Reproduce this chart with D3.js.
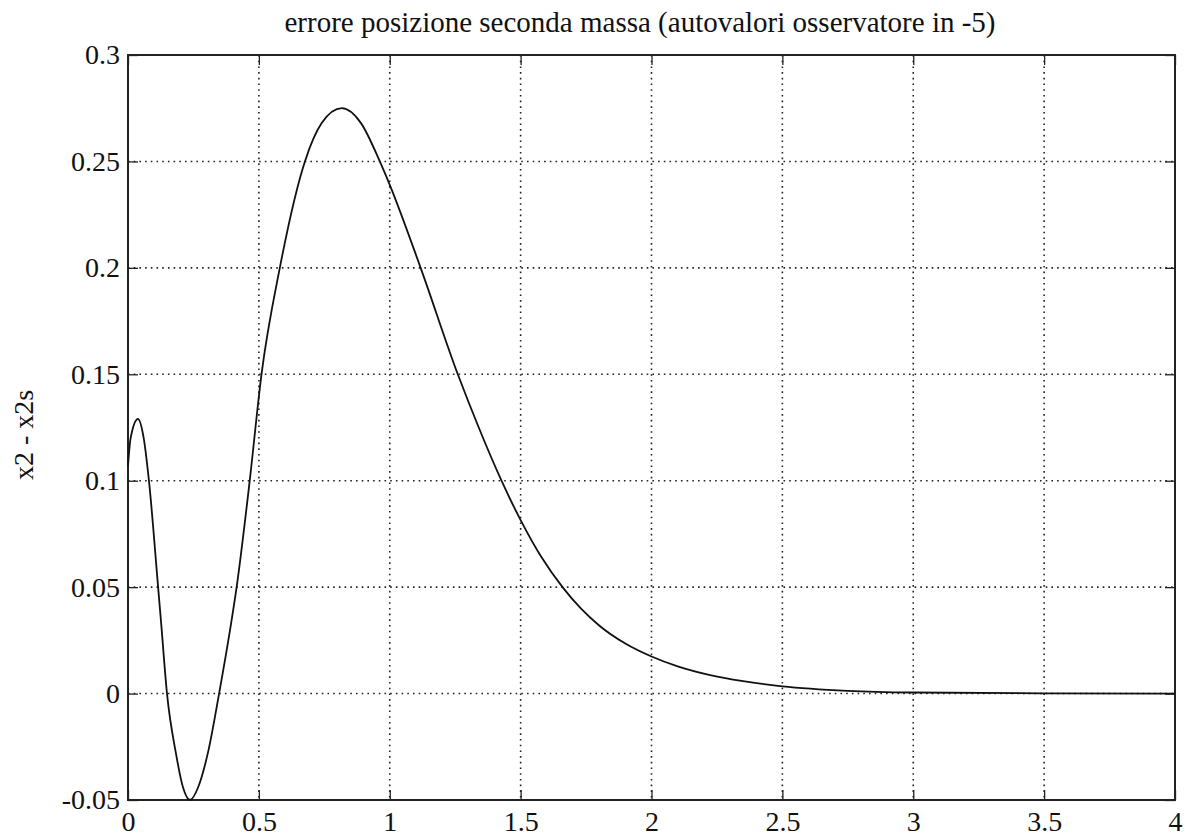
<!DOCTYPE html>
<html>
<head>
<meta charset="utf-8">
<script src="https://cdn.jsdelivr.net/npm/d3@7"></script>
<style>
  body { margin: 0; background: #fff; }
  text { font-family: "Liberation Serif", "Times New Roman", serif; fill: #111; }
</style>
</head>
<body>
<div id="chart"></div>
<script>
// values
const titleText = "errore posizione seconda massa (autovalori osservatore in -5)";
const yLabel = "x2 - x2s";
const xTicks = [0, 0.5, 1, 1.5, 2, 2.5, 3, 3.5, 4];
const yTicks = [-0.05, 0, 0.05, 0.1, 0.15, 0.2, 0.25, 0.3];
const time = [0, 0.01, 0.038, 0.06, 0.08, 0.115, 0.126, 0.149, 0.183, 0.21, 0.237, 0.268, 0.305,
  0.348, 0.39, 0.415, 0.465, 0.51, 0.58, 0.676, 0.74, 0.817, 0.89, 0.962, 1.0, 1.118, 1.26,
  1.34, 1.427, 1.5, 1.58, 1.66, 1.73, 1.8, 1.9, 2.0, 2.1, 2.22, 2.35, 2.5, 2.75, 3.0, 3.5, 4.0];
const error = [0.107, 0.12, 0.129, 0.12, 0.1, 0.05, 0.034, 0, -0.028, -0.044, -0.05, -0.044, -0.028,
  0, 0.03, 0.05, 0.1, 0.15, 0.2, 0.25, 0.268, 0.275, 0.268, 0.25, 0.239, 0.2, 0.15,
  0.125, 0.1, 0.0815, 0.064, 0.05, 0.04, 0.032, 0.0235, 0.0174, 0.0128, 0.0088, 0.0058, 0.0034, 0.0013, 0.0005, 0.0001, 0];

const W = 1185, H = 836;
const margin = {top: 55, left: 128};
const width = 1175 - margin.left;
const height = 800 - margin.top;

const svg = d3.select("#chart").append("svg")
  .attr("width", W).attr("height", H);

const g = svg.append("g").attr("transform", `translate(${margin.left},${margin.top})`);

const x = d3.scaleLinear().domain([0, 4]).range([0, width]);
const y = d3.scaleLinear().domain([-0.05, 0.3]).range([height, 0]);

// dotted grid
g.selectAll(".vgrid").data(xTicks.slice(1, -1)).enter().append("line")
  .attr("x1", d => x(d)).attr("x2", d => x(d))
  .attr("y1", 0).attr("y2", height)
  .attr("stroke", "#222").attr("stroke-width", 1.6)
  .attr("stroke-dasharray", "1.6,4.1");
g.selectAll(".hgrid").data(yTicks.slice(1, -1)).enter().append("line")
  .attr("y1", d => y(d)).attr("y2", d => y(d))
  .attr("x1", 0).attr("x2", width)
  .attr("stroke", "#222").attr("stroke-width", 1.6)
  .attr("stroke-dasharray", "1.6,4.1");

// axes, ticks pointing inward
const tickFmt = d => String(+d.toFixed(2));
const xAxis = g.append("g").attr("transform", `translate(0,${height})`)
  .call(d3.axisBottom(x).tickValues(xTicks).tickSizeInner(-10).tickSizeOuter(0).tickFormat(tickFmt));
const yAxis = g.append("g")
  .call(d3.axisLeft(y).tickValues(yTicks).tickSizeInner(-10).tickSizeOuter(0).tickPadding(8).tickFormat(tickFmt));
g.append("g")
  .call(d3.axisTop(x).tickValues(xTicks).tickSizeInner(-10).tickSizeOuter(0).tickFormat(""));
g.append("g").attr("transform", `translate(${width},0)`)
  .call(d3.axisRight(y).tickValues(yTicks).tickSizeInner(-10).tickSizeOuter(0).tickFormat(""));

g.selectAll(".domain").remove();
g.selectAll(".tick line").attr("stroke", "#222").attr("stroke-width", 1.3);
xAxis.selectAll("text").attr("font-size", 28).attr("y", 31).attr("dy", null).attr("fill", "#111");
yAxis.selectAll("text").attr("font-size", 28).attr("fill", "#111");

// frame
g.append("rect")
  .attr("x", 0).attr("y", 0).attr("width", width).attr("height", height)
  .attr("fill", "none").attr("stroke", "#222").attr("stroke-width", 2);

// curve
const pts = time.map((t, i) => [t, error[i]]);
const line = d3.line()
  .x(d => x(d[0]))
  .y(d => y(d[1]))
  .curve(d3.curveMonotoneX);
g.append("path")
  .datum(pts)
  .attr("fill", "none")
  .attr("stroke", "#111")
  .attr("stroke-width", 1.8)
  .attr("d", line);

// labels
svg.append("text")
  .attr("x", 640).attr("y", 32)
  .attr("text-anchor", "middle")
  .attr("font-size", 29)
  .text(titleText);

svg.append("text")
  .attr("transform", `translate(33,435) rotate(-90)`)
  .attr("text-anchor", "middle")
  .attr("font-size", 28)
  .text(yLabel);
</script>
</body>
</html>
